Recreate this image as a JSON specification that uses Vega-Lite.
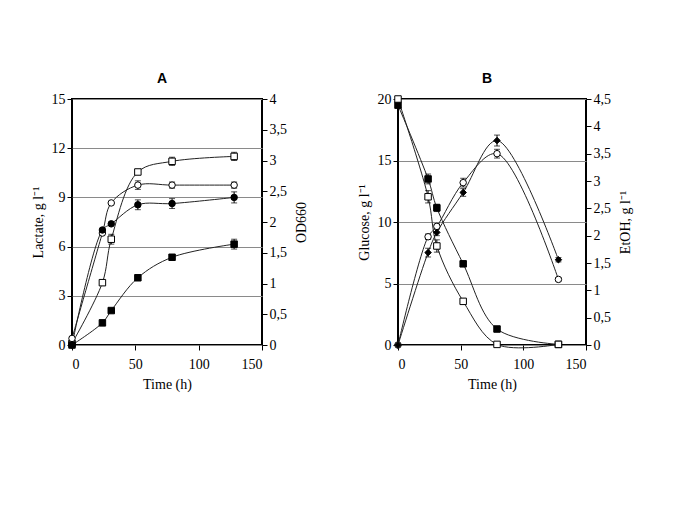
{
  "$schema": "https://vega.github.io/schema/vega-lite/v6.json",
  "background": "white",
  "padding": {"left": 30, "top": 71, "right": 5, "bottom": 5},
  "spacing": 46,
  "config": {
    "font": "Liberation Serif",
    "view": {"stroke": "black", "strokeWidth": 2},
    "axis": {
      "labelFont": "Liberation Serif", "labelFontSize": 14, "labelColor": "black",
      "titleFont": "Liberation Serif", "titleFontSize": 14, "titleFontWeight": "normal", "titleColor": "black",
      "tickColor": "black", "tickSize": 5, "domain": false, "gridColor": "#8a8a8a", "gridWidth": 1, "labelPadding": 2
    },
    "axisX": {"labelPadding": 7, "titlePadding": 6},
    "title": {"font": "Liberation Sans", "fontWeight": 900, "fontSize": 14, "color": "black", "offset": 6, "dx": -5}
  },
  "datasets": {
    "A": [
      {"t": 0, "v": 0.1, "s": "os", "ax": "L", "err": 0},
      {"t": 24, "v": 3.8, "s": "os", "ax": "L", "err": 0.15},
      {"t": 31, "v": 6.45, "s": "os", "ax": "L", "err": 0.3},
      {"t": 52, "v": 10.55, "s": "os", "ax": "L", "err": 0.15},
      {"t": 79, "v": 11.2, "s": "os", "ax": "L", "err": 0.25},
      {"t": 128, "v": 11.5, "s": "os", "ax": "L", "err": 0.25},
      {"t": 0, "v": 0, "s": "fs", "ax": "L", "err": 0},
      {"t": 24, "v": 1.35, "s": "fs", "ax": "L", "err": 0.1},
      {"t": 31, "v": 2.1, "s": "fs", "ax": "L", "err": 0.1},
      {"t": 52, "v": 4.1, "s": "fs", "ax": "L", "err": 0.1},
      {"t": 79, "v": 5.35, "s": "fs", "ax": "L", "err": 0.1},
      {"t": 128, "v": 6.15, "s": "fs", "ax": "L", "err": 0.3},
      {"t": 0, "v": 0.107, "s": "oc", "ax": "R", "err": 0},
      {"t": 24, "v": 1.82, "s": "oc", "ax": "R", "err": 0},
      {"t": 31, "v": 2.31, "s": "oc", "ax": "R", "err": 0},
      {"t": 52, "v": 2.6, "s": "oc", "ax": "R", "err": 0.07},
      {"t": 79, "v": 2.6, "s": "oc", "ax": "R", "err": 0.05},
      {"t": 128, "v": 2.6, "s": "oc", "ax": "R", "err": 0.05},
      {"t": 0, "v": 0, "s": "fc", "ax": "R", "err": 0},
      {"t": 24, "v": 1.87, "s": "fc", "ax": "R", "err": 0},
      {"t": 31, "v": 1.97, "s": "fc", "ax": "R", "err": 0},
      {"t": 52, "v": 2.28, "s": "fc", "ax": "R", "err": 0.08},
      {"t": 79, "v": 2.3, "s": "fc", "ax": "R", "err": 0.08},
      {"t": 128, "v": 2.4, "s": "fc", "ax": "R", "err": 0.09}
    ],
    "B": [
      {"t": 0, "v": 19.5, "s": "fs", "ax": "L", "err": 0},
      {"t": 24, "v": 13.5, "s": "fs", "ax": "L", "err": 0.4},
      {"t": 31, "v": 11.15, "s": "fs", "ax": "L", "err": 0.3},
      {"t": 52, "v": 6.6, "s": "fs", "ax": "L", "err": 0.2},
      {"t": 79, "v": 1.3, "s": "fs", "ax": "L", "err": 0.1},
      {"t": 128, "v": 0.05, "s": "fs", "ax": "L", "err": 0},
      {"t": 0, "v": 20, "s": "os", "ax": "L", "err": 0},
      {"t": 24, "v": 12.05, "s": "os", "ax": "L", "err": 0.5},
      {"t": 31, "v": 8.05, "s": "os", "ax": "L", "err": 0.5},
      {"t": 52, "v": 3.55, "s": "os", "ax": "L", "err": 0.2},
      {"t": 79, "v": 0.05, "s": "os", "ax": "L", "err": 0},
      {"t": 128, "v": 0.05, "s": "os", "ax": "L", "err": 0},
      {"t": 0, "v": 0, "s": "oc", "ax": "R", "err": 0},
      {"t": 24, "v": 1.98, "s": "oc", "ax": "R", "err": 0.05},
      {"t": 31, "v": 2.17, "s": "oc", "ax": "R", "err": 0.04},
      {"t": 52, "v": 2.97, "s": "oc", "ax": "R", "err": 0.08},
      {"t": 79, "v": 3.5, "s": "oc", "ax": "R", "err": 0.08},
      {"t": 128, "v": 1.2, "s": "oc", "ax": "R", "err": 0.03},
      {"t": 0, "v": 0, "s": "fd", "ax": "R", "err": 0},
      {"t": 24, "v": 1.69, "s": "fd", "ax": "R", "err": 0.08},
      {"t": 31, "v": 2.06, "s": "fd", "ax": "R", "err": 0.06},
      {"t": 52, "v": 2.79, "s": "fd", "ax": "R", "err": 0.07},
      {"t": 79, "v": 3.74, "s": "fd", "ax": "R", "err": 0.1},
      {"t": 128, "v": 1.56, "s": "fd", "ax": "R", "err": 0.04}
    ]
  },
  "hconcat": [
    {
      "title": {"text": "A"},
      "width": 190, "height": 246,
      "data": {"name": "A"},
      "layer": [
        {
          "transform": [{"filter": "datum.ax === 'L'"}],
          "encoding": {
            "x": {"field": "t", "type": "quantitative", "scale": {"domain": [0, 150]}, "axis": {"values": [0, 50, 100, 150], "title": "Time (h)", "grid": false}},
            "y": {"field": "v", "type": "quantitative", "scale": {"domain": [0, 15]}, "axis": {"values": [0, 3, 6, 9, 12, 15], "grid": true, "title": "Lactate, g l⁻¹", "titlePadding": 6}}
          },
          "layer": [
            {"mark": {"type": "line", "interpolate": "catmull-rom", "color": "#222", "strokeWidth": 1}, "encoding": {"detail": {"field": "s"}, "order": {"field": "t"}}},
            {"transform": [{"filter": "datum.err > 0"}], "mark": {"type": "errorbar", "ticks": {"size": 6}, "color": "black"}, "encoding": {"yError": {"field": "err"}}},
            {"mark": {"type": "point", "filled": true, "stroke": "black", "strokeWidth": 1, "opacity": 1},
             "encoding": {
               "shape": {"field": "s", "scale": {"domain": ["os", "fs", "oc", "fc", "fd"], "range": ["square", "square", "circle", "circle", "diamond"]}, "legend": null},
               "fill": {"field": "s", "scale": {"domain": ["os", "fs", "oc", "fc", "fd"], "range": ["white", "black", "white", "black", "black"]}, "legend": null},
               "size": {"field": "s", "type": "ordinal", "scale": {"domain": ["os", "fs", "oc", "fc", "fd"], "range": [42, 42, 50, 50, 26]}, "legend": null}
             }}
          ]
        },
        {
          "transform": [{"filter": "datum.ax === 'R'"}],
          "encoding": {
            "x": {"field": "t", "type": "quantitative", "scale": {"domain": [0, 150]}, "axis": {"values": [0, 50, 100, 150], "title": "Time (h)", "grid": false}},
            "y": {"field": "v", "type": "quantitative", "scale": {"domain": [0, 4]}, "axis": {"orient": "right", "values": [0, 0.5, 1, 1.5, 2, 2.5, 3, 3.5, 4], "grid": false, "title": "OD660", "titleAngle": 270, "titleBaseline": "top", "titlePadding": 8, "labelExpr": "replace(toString(datum.value), '.', ',')"}}
          },
          "layer": [
            {"mark": {"type": "line", "interpolate": "catmull-rom", "color": "#222", "strokeWidth": 1}, "encoding": {"detail": {"field": "s"}, "order": {"field": "t"}}},
            {"transform": [{"filter": "datum.err > 0"}], "mark": {"type": "errorbar", "ticks": {"size": 6}, "color": "black"}, "encoding": {"yError": {"field": "err"}}},
            {"mark": {"type": "point", "filled": true, "stroke": "black", "strokeWidth": 1, "opacity": 1},
             "encoding": {
               "shape": {"field": "s", "scale": {"domain": ["os", "fs", "oc", "fc", "fd"], "range": ["square", "square", "circle", "circle", "diamond"]}, "legend": null},
               "fill": {"field": "s", "scale": {"domain": ["os", "fs", "oc", "fc", "fd"], "range": ["white", "black", "white", "black", "black"]}, "legend": null},
               "size": {"field": "s", "type": "ordinal", "scale": {"domain": ["os", "fs", "oc", "fc", "fd"], "range": [42, 42, 50, 50, 26]}, "legend": null}
             }}
          ]
        }
      ],
      "resolve": {"scale": {"y": "independent"}}
    },
    {
      "title": {"text": "B"},
      "width": 188, "height": 246,
      "data": {"name": "B"},
      "layer": [
        {
          "transform": [{"filter": "datum.ax === 'L'"}],
          "encoding": {
            "x": {"field": "t", "type": "quantitative", "scale": {"domain": [0, 150]}, "axis": {"values": [0, 50, 100, 150], "title": "Time (h)", "grid": false}},
            "y": {"field": "v", "type": "quantitative", "scale": {"domain": [0, 20]}, "axis": {"values": [0, 5, 10, 15, 20], "grid": true, "title": "Glucose, g l⁻¹", "titlePadding": 6}}
          },
          "layer": [
            {"mark": {"type": "line", "interpolate": "catmull-rom", "color": "#222", "strokeWidth": 1}, "encoding": {"detail": {"field": "s"}, "order": {"field": "t"}}},
            {"transform": [{"filter": "datum.err > 0"}], "mark": {"type": "errorbar", "ticks": {"size": 6}, "color": "black"}, "encoding": {"yError": {"field": "err"}}},
            {"mark": {"type": "point", "filled": true, "stroke": "black", "strokeWidth": 1, "opacity": 1},
             "encoding": {
               "shape": {"field": "s", "scale": {"domain": ["os", "fs", "oc", "fc", "fd"], "range": ["square", "square", "circle", "circle", "diamond"]}, "legend": null},
               "fill": {"field": "s", "scale": {"domain": ["os", "fs", "oc", "fc", "fd"], "range": ["white", "black", "white", "black", "black"]}, "legend": null},
               "size": {"field": "s", "type": "ordinal", "scale": {"domain": ["os", "fs", "oc", "fc", "fd"], "range": [48, 48, 50, 50, 26]}, "legend": null}
             }}
          ]
        },
        {
          "transform": [{"filter": "datum.ax === 'R'"}],
          "encoding": {
            "x": {"field": "t", "type": "quantitative", "scale": {"domain": [0, 150]}, "axis": {"values": [0, 50, 100, 150], "title": "Time (h)", "grid": false}},
            "y": {"field": "v", "type": "quantitative", "scale": {"domain": [0, 4.5]}, "axis": {"orient": "right", "values": [0, 0.5, 1, 1.5, 2, 2.5, 3, 3.5, 4, 4.5], "grid": false, "title": "EtOH, g l⁻¹", "titleAngle": 270, "titleBaseline": "top", "titlePadding": 8, "labelExpr": "replace(toString(datum.value), '.', ',')"}}
          },
          "layer": [
            {"mark": {"type": "line", "interpolate": "catmull-rom", "color": "#222", "strokeWidth": 1}, "encoding": {"detail": {"field": "s"}, "order": {"field": "t"}}},
            {"transform": [{"filter": "datum.err > 0"}], "mark": {"type": "errorbar", "ticks": {"size": 6}, "color": "black"}, "encoding": {"yError": {"field": "err"}}},
            {"mark": {"type": "point", "filled": true, "stroke": "black", "strokeWidth": 1, "opacity": 1},
             "encoding": {
               "shape": {"field": "s", "scale": {"domain": ["os", "fs", "oc", "fc", "fd"], "range": ["square", "square", "circle", "circle", "diamond"]}, "legend": null},
               "fill": {"field": "s", "scale": {"domain": ["os", "fs", "oc", "fc", "fd"], "range": ["white", "black", "white", "black", "black"]}, "legend": null},
               "size": {"field": "s", "type": "ordinal", "scale": {"domain": ["os", "fs", "oc", "fc", "fd"], "range": [48, 48, 50, 50, 26]}, "legend": null}
             }}
          ]
        }
      ],
      "resolve": {"scale": {"y": "independent"}}
    }
  ]
}
